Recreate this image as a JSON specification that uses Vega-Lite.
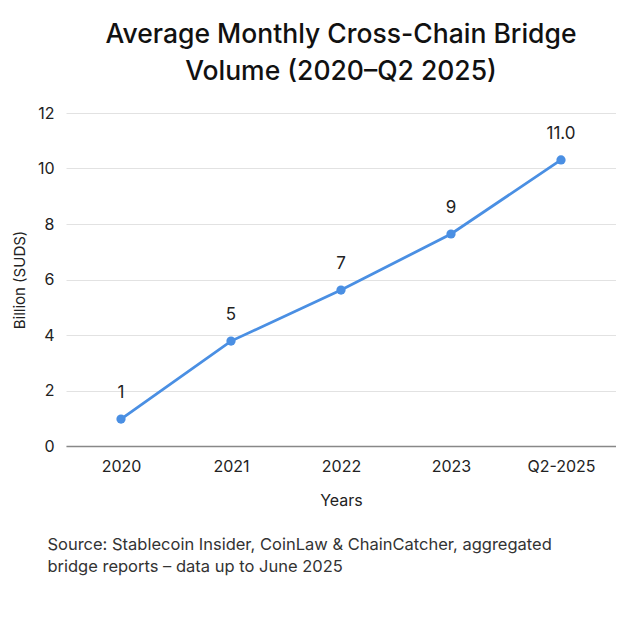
{
  "$schema": "https://vega.github.io/schema/vega-lite/v6.json",
  "background": "white",
  "padding": {"left": 12, "top": 21, "right": 0, "bottom": 0},
  "config": {
    "font": "Inter",
    "view": {"stroke": null},
    "axis": {"labelFont": "Inter", "titleFont": "Inter", "labelColor": "#222", "titleColor": "#222", "titleFontWeight": "normal"}
  },
  "title": {
    "text": ["Source: Stablecoin Insider, CoinLaw & ChainCatcher, aggregated", "bridge reports – data up to June 2025"],
    "orient": "bottom",
    "anchor": "start",
    "frame": "bounds",
    "dx": 35,
    "offset": 29,
    "fontSize": 16.5,
    "fontWeight": "normal",
    "color": "#333",
    "lineHeight": 22,
    "font": "Inter"
  },
  "vconcat": [
    {
      "width": 550,
      "height": 333,
      "title": {
        "text": ["Average Monthly Cross-Chain Bridge", "Volume (2020–Q2 2025)"],
        "anchor": "middle",
        "frame": "group",
        "fontSize": 26.5,
        "fontWeight": 500,
        "color": "#111",
        "lineHeight": 37,
        "offset": 20,
        "font": "Inter"
      },
      "data": {
        "values": [
          {"year": "2020", "value": 0.97, "label": "1"},
          {"year": "2021", "value": 3.78, "label": "5"},
          {"year": "2022", "value": 5.62, "label": "7"},
          {"year": "2023", "value": 7.64, "label": "9"},
          {"year": "Q2-2025", "value": 10.31, "label": "11.0"}
        ]
      },
      "encoding": {
        "x": {
          "field": "year",
          "type": "ordinal",
          "sort": null,
          "scale": {"type": "point", "padding": 0.5},
          "axis": {
            "title": "Years",
            "labelAngle": 0,
            "labelFontSize": 16,
            "titleFontSize": 16,
            "labelPadding": 12,
            "titlePadding": 18,
            "ticks": false,
            "domainColor": "#888",
            "domainWidth": 1.5,
            "grid": false
          }
        },
        "y": {
          "field": "value",
          "type": "quantitative",
          "scale": {"domain": [0, 12], "nice": false},
          "axis": {
            "title": "Billion (SUDS)",
            "values": [0, 2, 4, 6, 8, 10, 12],
            "labelFontSize": 16,
            "titleFontSize": 15,
            "labelPadding": 12,
            "titlePadding": 10,
            "ticks": false,
            "domain": false,
            "gridColor": "#e2e2e2",
            "gridWidth": 1
          }
        }
      },
      "layer": [
        {
          "mark": {"type": "line", "color": "#4a8fe3", "strokeWidth": 2.8}
        },
        {
          "mark": {"type": "point", "filled": true, "color": "#4a8fe3", "size": 85, "opacity": 1}
        },
        {
          "mark": {"type": "text", "dy": -26, "fontSize": 17, "color": "#222", "font": "Inter"},
          "encoding": {"text": {"field": "label"}}
        }
      ]
    }
  ]
}
